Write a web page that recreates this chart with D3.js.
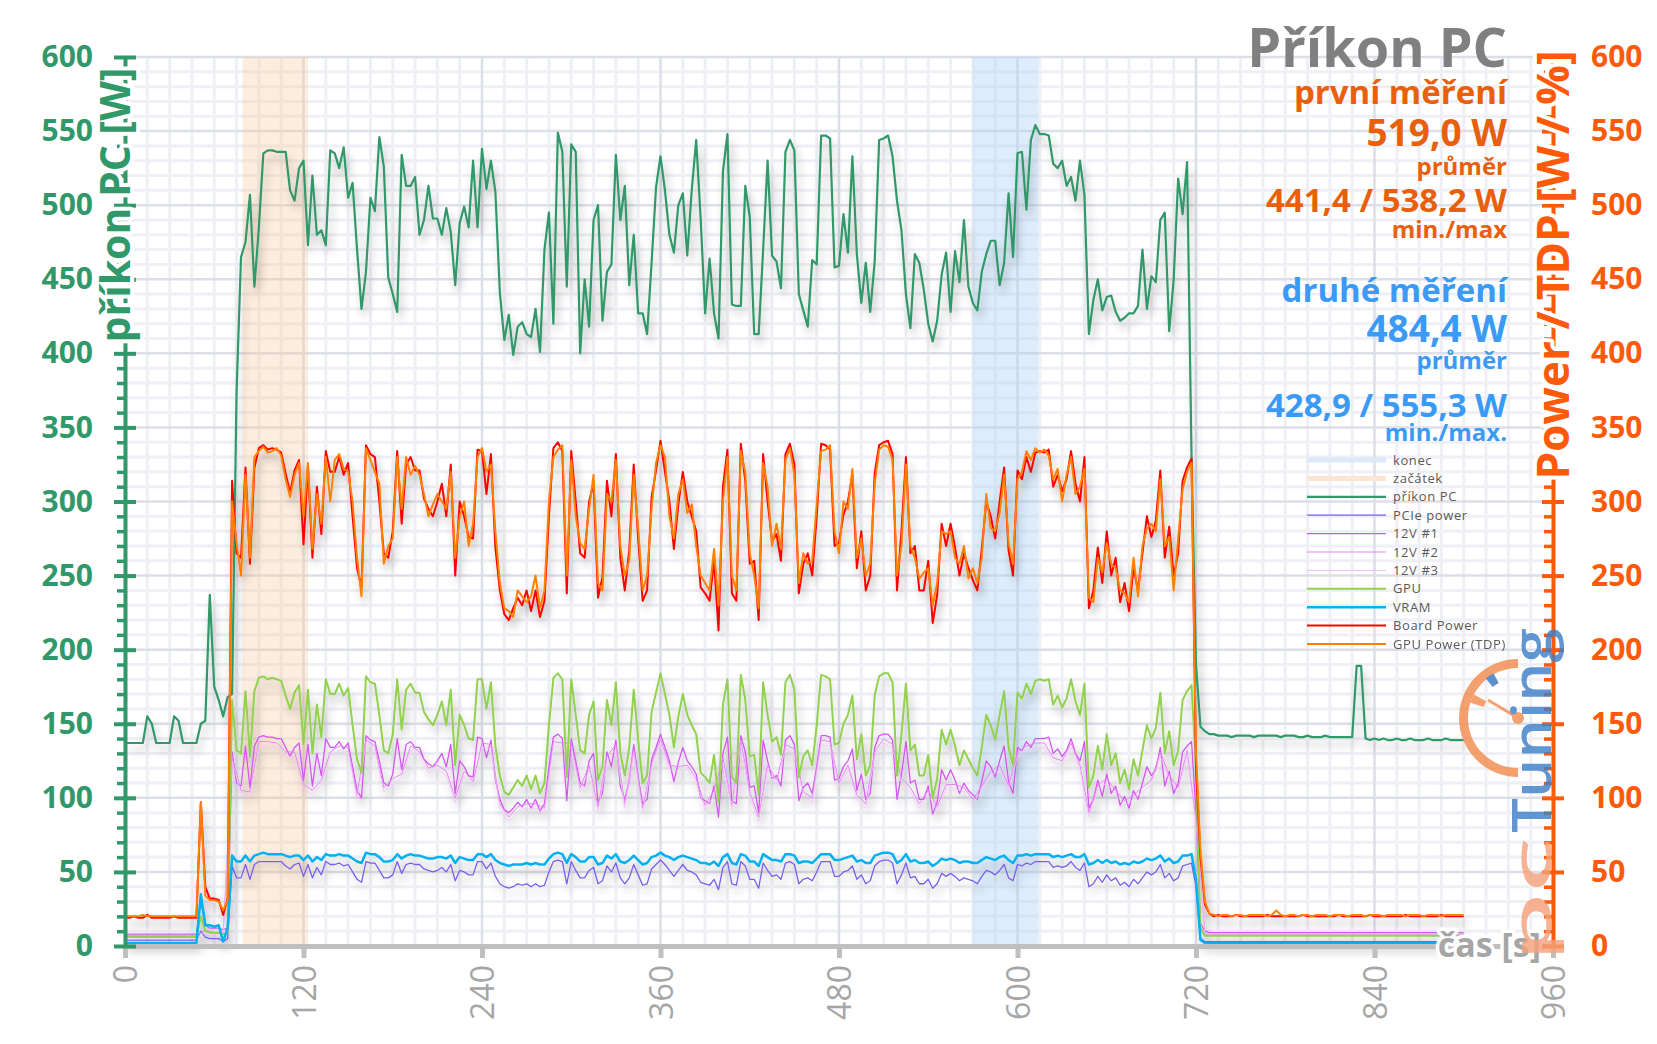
<!DOCTYPE html>
<html><head><meta charset="utf-8">
<script src="https://cdn.jsdelivr.net/npm/d3@7"></script>
<style>body{margin:0;background:#fff}svg{display:block;font-family:"Open Sans",sans-serif}</style>
</head><body><svg id="c" width="1657" height="1044"></svg>
<script>
// ---------- DATA ----------
const step = 3;      // seconds between samples (main series)
const step12 = 6;    // seconds between samples (12V #2, #3)
const xTicks = [0,120,240,360,480,600,720,840,960];
const yTicks = [0,50,100,150,200,250,300,350,400,450,500,550,600];
const startBand = [79,123];   // "začátek"
const endBand = [570,614];    // "konec"

const prikonPC = [
137,137,137,137,137,155,150,137,137,137,137,155,152,137,137,137,137,150,152,237,175,166,155,168,
170,374,465,475,507,445,485,535,537,537,536,536,536,510,503,525,530,473,520,480,483,473,537,535,525,539,505,515,470,430,455,505,496,546,526,451,440,428,534,513,513,519,480,490,513,491,491,480,498,482,446,488,499,485,530,485,
538,511,530,509,441,409,426,399,418,421,413,411,430,401,470,495,420,549,536,445,541,536,400,450,418,490,500,422,455,460,534,490,513,446,480,427,427,413,461,512,533,510,480,468,500,508,466,510,544,491,427,464,427,410,523,548,433,432,432,513,492,413,413,
470,530,466,462,444,536,544,537,440,429,418,463,460,547,547,545,458,459,494,468,533,467,434,461,428,462,544,545,547,533,503,483,440,417,467,461,443,420,408,422,453,468,428,469,448,490,445,434,429,455,467,476,476,446,461,508,465,535,536,497,544,554,
548,548,547,528,525,530,513,519,503,530,507,413,436,450,429,438,439,428,422,424,427,427,432,470,430,452,448,490,495,415,450,518,494,529,330,190,148,145,143,
143,142,142,142,141,142,142,142,142,141,142,142,142,142,142,141,142,142,142,141,141,142,141,141,141,142,141,141,141,141,141,141,
189,189,
140,139,140,139,140,139,139,140,139,139,140,139,139,139,140,139,139,139,140,139,139,139,139];

const boardPower = [
19,19,20,19,19,21,19,19,19,19,19,20,19,19,19,19,19,97,40,32,32,31,21,32,
314,265,262,323,258,323,336,338,335,336,335,333,319,306,321,328,271,324,262,310,278,334,320,320,330,318,326,290,255,242,338,332,330,300,265,262,280,334,285,325,330,321,321,302,295,290,300,312,290,325,250,300,290,276,275,335,
334,305,332,269,240,224,220,228,235,230,240,226,240,222,233,290,336,340,334,238,334,300,265,262,300,312,235,249,314,290,332,262,240,267,325,275,233,240,303,321,341,320,300,268,298,320,300,290,280,242,238,233,260,213,310,335,238,233,339,314,258,260,220,
332,300,273,278,260,332,339,325,238,258,265,250,290,339,338,335,270,272,291,300,318,255,280,240,250,319,338,340,341,332,240,280,330,265,270,240,240,260,218,237,285,270,285,269,250,265,255,247,240,268,300,290,275,300,323,267,250,321,315,330,320,333,
334,333,335,310,318,307,315,334,312,300,330,228,240,269,245,280,250,262,232,245,226,255,240,265,290,276,287,321,262,283,250,265,314,323,329,120,60,28,22,
20,21,20,20,20,21,20,20,20,20,20,20,21,20,20,20,20,20,20,20,21,20,20,20,20,20,20,20,21,20,20,20,20,20,20,21,20,20,20,20,20,20,20,21,20,20,20,20,20,20,20,21,20,20,20,20,20];

const gpuPowerTDP = [
20,20,20,20,21,20,20,20,20,20,20,20,20,20,20,20,20,97,34,31,31,30,24,31,
300,272,250,318,262,330,334,337,333,334,336,331,315,303,318,326,290,326,268,305,285,330,300,328,332,322,320,300,262,236,336,328,320,312,258,270,275,330,295,330,318,324,318,305,290,298,305,300,295,320,262,290,300,270,285,330,
336,320,325,280,245,228,226,222,240,236,232,236,250,228,240,300,330,335,338,250,328,290,272,268,295,318,245,240,305,300,328,270,250,260,318,282,240,250,295,326,338,330,290,275,305,315,292,298,270,250,245,240,268,230,300,330,250,240,334,320,265,250,228,
326,310,270,285,268,328,336,318,245,265,258,260,298,334,335,338,280,265,300,295,322,262,275,250,258,312,335,338,337,328,250,270,325,270,262,248,252,255,230,245,280,278,280,262,258,270,248,255,245,262,305,282,280,292,318,272,258,315,320,334,328,336,
333,335,331,315,322,300,318,330,305,310,322,235,232,262,252,272,258,255,240,238,232,262,236,270,282,285,280,315,270,276,240,275,308,320,326,130,65,30,22,
21,20,21,21,20,21,21,20,21,21,21,21,20,21,24,21,20,21,21,20,21,21,20,21,21,21,20,21,21,21,20,21,21,21,20,21,21,21,20,21,21,21,21,20,21,21,21,20,21,21,21,20,21,21,21,21,21];

const gpuCore = [
6,6,6,6,6,6,6,6,6,6,6,6,6,6,6,6,6,20,10,9,9,9,8,9,
166,132,130,172,128,172,181,182,180,181,180,179,169,160,171,176,136,173,130,163,141,180,170,170,177,169,174,149,126,117,182,178,177,156,132,130,143,180,146,173,177,171,171,158,153,149,156,165,149,173,122,156,149,140,139,180,
180,160,178,135,115,104,102,107,112,108,115,106,115,103,110,149,181,184,180,114,180,156,132,130,156,165,112,121,166,149,178,130,115,134,173,139,110,115,158,171,184,170,156,134,155,170,156,149,143,117,114,110,129,97,163,180,114,110,183,166,128,129,102,
178,156,138,141,129,178,183,173,114,128,132,122,149,183,182,180,136,137,150,156,169,126,143,115,122,169,182,184,184,178,115,143,177,132,136,115,115,129,100,113,146,136,146,135,122,132,126,120,115,134,156,149,139,156,172,134,122,171,167,177,170,179,
180,179,180,163,169,161,167,180,165,156,177,107,115,135,119,143,122,130,110,119,106,126,115,132,149,140,147,171,130,145,122,132,166,172,176,120,12,7,7,
7,7,7,7,7,7,7,7,7,7,7,7,7,7,7,7,7,7,7,7,7,7,7,7,7,7,7,7,7,7,7,7,7,7,7,7,7,7,7,7,7,7,7,7,7,7,7,7,7,7,7,7,7,7,7,7,7];

const v12_1 = [
8,8,8,8,8,8,8,8,8,8,8,8,8,8,8,8,8,30,14,12,12,12,11,12,
131,110,108,135,107,135,141,142,141,141,140,140,134,128,134,137,112,136,108,130,115,140,134,134,138,133,137,121,105,100,142,139,138,125,110,108,116,140,119,136,138,134,134,126,123,121,125,130,121,136,103,125,121,115,114,141,
140,127,139,112,99,92,90,93,97,94,99,93,99,91,96,121,141,143,140,98,140,125,110,108,125,130,97,103,131,121,139,108,99,111,136,114,96,99,126,134,143,134,125,111,124,134,125,121,116,100,98,96,108,87,130,141,98,96,142,131,107,108,90,
139,125,113,115,108,139,142,136,98,107,110,103,121,142,142,141,112,113,121,125,133,105,116,99,103,134,142,143,143,139,99,116,138,110,112,99,99,108,89,97,119,112,119,112,103,110,105,102,99,111,125,121,114,125,135,111,103,134,132,138,134,140,
140,140,141,130,133,128,132,140,130,125,138,93,99,112,101,116,103,108,95,101,93,105,99,110,121,115,119,134,108,118,103,110,131,135,138,90,15,10,9,
9,9,9,9,9,9,9,9,9,9,9,9,9,9,9,9,9,9,9,9,9,9,9,9,9,9,9,9,9,9,9,9,9,9,9,9,9,9,9,9,9,9,9,9,9,9,9,9,9,9,9,9,9,9,9,9,9];

const v12_2 = [
7,7,7,7,7,7,7,7,7,11,9,8,
128,105,104,138,138,137,131,131,109,105,112,131,135,134,102,139,135,107,113,116,135,131,120,122,118,100,118,111,137,136,96,87,94,96,96,93,138,137,137,107,122,94,128,136,96,133,93,123,140,122,121,122,113,95,105,127,95,139,104,87,122,112,136,133,104,100,139,138,110,122,102,96,131,140,136,113,107,96,105,94,109,109,107,99,108,118,122,108,131,135,137,137,127,125,137,122,90,109,113,105,98,102,107,112,131,115,107,132,85,8,
8,8,8,8,8,8,8,8,8,8,8,8,8,8,8,8,8,8,8,8,8,8,8,8,8,8,8,8,8];

const v12_3 = [
6,6,6,6,6,6,6,6,6,9,8,7,
125,102,101,135,135,134,128,128,106,102,109,128,132,131,99,136,132,104,110,113,132,128,117,119,115,97,115,108,134,133,93,84,91,93,93,90,135,134,134,104,119,91,125,133,93,130,90,120,137,119,118,119,110,92,102,124,92,136,101,84,119,109,133,130,101,97,136,135,107,119,99,93,128,137,133,110,104,93,102,91,106,106,104,96,105,115,119,105,128,132,134,134,124,122,134,119,87,106,110,102,95,99,104,109,128,112,104,129,82,7,
7,7,7,7,7,7,7,7,7,7,7,7,7,7,7,7,7,7,7,7,7,7,7,7,7,7,7,7,7];

const pciePower = [
4,4,4,4,4,4,4,4,4,4,4,4,4,4,4,4,4,10,6,5,5,5,3,5,
54,46,46,55,45,55,57,57,57,57,57,57,54,52,55,56,47,55,46,53,48,57,55,55,56,54,55,50,45,43,57,56,56,51,46,46,48,57,49,55,56,55,55,52,51,50,51,53,50,55,44,51,50,48,48,57,
57,52,56,47,42,40,39,40,42,41,42,40,42,40,41,50,57,58,57,42,57,51,46,46,51,53,42,44,54,50,56,46,42,46,55,48,41,42,52,55,58,55,51,47,51,55,51,50,48,43,42,41,45,38,53,57,42,41,57,54,45,45,39,
56,51,47,48,45,56,57,55,42,45,46,44,50,57,57,57,47,47,50,51,54,45,48,42,44,54,57,58,58,56,42,48,56,46,47,42,42,45,39,42,49,47,49,47,44,46,45,44,42,47,51,50,48,51,55,46,44,55,54,56,55,57,
57,57,57,53,54,53,54,57,53,51,56,40,42,47,43,48,44,46,41,43,40,45,42,46,50,48,50,55,46,49,44,46,54,55,56,40,5,3,3,
3,3,3,3,3,3,3,3,3,3,3,3,3,3,3,3,3,3,3,3,3,3,3,3,3,3,3,3,3,3,3,3,3,3,3,3,3,3,3,3,3,3,3,3,3,3,3,3,3,3,3,3,3,3,3,3,3];

const vram = [
2,2,2,2,2,2,2,2,2,2,2,2,2,2,2,2,2,35,14,14,13,14,3,12,
61,57,57,61,57,61,62,63,62,62,62,62,61,60,61,61,58,61,57,60,58,62,61,61,62,61,61,59,57,56,63,62,62,60,57,57,58,62,59,61,62,61,61,60,59,59,60,60,59,61,56,60,59,58,58,62,
62,60,62,58,56,55,54,55,55,55,56,55,56,55,55,59,62,63,62,56,62,60,57,57,60,60,55,56,61,59,62,57,56,58,61,58,55,56,60,61,63,61,60,58,60,61,60,59,58,56,56,55,57,54,60,62,56,55,62,61,57,57,54,
62,60,58,58,57,62,62,61,56,57,57,56,59,62,62,62,58,58,59,60,61,57,58,56,56,61,62,63,63,62,56,58,62,57,58,56,56,57,54,56,59,58,59,58,56,57,57,56,56,58,60,59,58,60,61,58,56,61,61,62,61,62,
62,62,62,60,61,60,61,62,60,60,62,55,56,58,56,58,56,57,55,56,55,57,56,57,59,58,59,61,57,59,56,57,61,61,62,45,4,2,2,
2,2,2,2,2,2,2,2,2,2,2,2,2,2,2,2,2,2,2,2,2,2,2,2,2,2,2,2,2,2,2,2,2,2,2,2,2,2,2,2,2,2,2,2,2,2,2,2,2,2,2,2,2,2,2,2,2];

// ---------- CHART ----------
const svg = d3.select("#c");
const M = {left:125, right:1553, top:57, bottom:946};
const x = d3.scaleLinear().domain([0,960]).range([M.left, M.right]);
const yL = d3.scaleLinear().domain([0,600]).range([M.bottom, M.top]);
const yR = d3.scaleLinear().domain([0,600]).range([M.bottom, M.top]);
const GREEN = "#31986a", ORANGE = "#ff5a0a";

const defs = svg.append("defs");
const f = defs.append("filter").attr("id","sh").attr("x","-5%").attr("y","-5%").attr("width","110%").attr("height","120%");
f.append("feGaussianBlur").attr("in","SourceAlpha").attr("stdDeviation",5).attr("result","b");
f.append("feOffset").attr("in","b").attr("dx",3).attr("dy",7).attr("result","o");
const ct = f.append("feComponentTransfer").attr("in","o").attr("result","s");
ct.append("feFuncA").attr("type","linear").attr("slope",0.3);
const mg = f.append("feMerge"); mg.append("feMergeNode").attr("in","s"); mg.append("feMergeNode").attr("in","SourceGraphic");

// grid
const grid = svg.append("g");
const minorX = d3.range(0,961,15).filter(v=>v%120!==0);
const minorY = d3.range(0,601,10).filter(v=>v%50!==0);
grid.selectAll(".mx").data(minorX).join("line").attr("x1",d=>x(d)).attr("x2",d=>x(d)).attr("y1",M.top).attr("y2",M.bottom).attr("stroke","#eef0f5").attr("stroke-width",3);
grid.selectAll(".my").data(minorY).join("line").attr("y1",d=>yL(d)).attr("y2",d=>yL(d)).attr("x1",M.left).attr("x2",M.right).attr("stroke","#eef0f5").attr("stroke-width",3);
grid.selectAll(".Mx").data(xTicks).join("line").attr("x1",d=>x(d)).attr("x2",d=>x(d)).attr("y1",M.top).attr("y2",M.bottom).attr("stroke","#dcdfe7").attr("stroke-width",2.5);
grid.selectAll(".My").data(yTicks).join("line").attr("y1",d=>yL(d)).attr("y2",d=>yL(d)).attr("x1",M.left).attr("x2",M.right).attr("stroke","#dcdfe7").attr("stroke-width",2.5);

// bands
svg.append("rect").attr("x",x(startBand[0])).attr("width",x(startBand[1])-x(startBand[0])).attr("y",M.top).attr("height",M.bottom-M.top).attr("fill","#f9c89a").attr("opacity",0.33);
svg.append("rect").attr("x",x(endBand[0])).attr("width",x(endBand[1])-x(endBand[0])).attr("y",M.top).attr("height",M.bottom-M.top).attr("fill","#a8cff5").attr("opacity",0.38);

// series
const series = [
  {name:"příkon PC", data:prikonPC, st:step, color:GREEN, w:2.2, y:yL},
  {name:"PCIe power", data:pciePower, st:step, color:"#7a5cf0", w:1.3, y:yR},
  {name:"12V #1", data:v12_1, st:step, color:"#d455f0", w:1.3, y:yR},
  {name:"12V #2", data:v12_2, st:step12, color:"#e486f5", w:1, y:yR},
  {name:"12V #3", data:v12_3, st:step12, color:"#f3bdf9", w:0.8, y:yR},
  {name:"GPU", data:gpuCore, st:step, color:"#92d050", w:2, y:yR},
  {name:"VRAM", data:vram, st:step, color:"#00b0f0", w:2.5, y:yR},
  {name:"Board Power", data:boardPower, st:step, color:"#ff0000", w:2, y:yR},
  {name:"GPU Power (TDP)", data:gpuPowerTDP, st:step, color:"#ff8000", w:2, y:yR}
];
const lg = svg.append("g").attr("filter","url(#sh)");
series.forEach(s=>{
  const line = d3.line().x((d,i)=>x(i*s.st)).y(d=>s.y(d));
  lg.append("path").attr("d",line(s.data)).attr("fill","none").attr("stroke",s.color).attr("stroke-width",s.w).attr("stroke-linejoin","round");
});

// x axis
const gx = svg.append("g").attr("transform",`translate(0,${M.bottom})`)
  .call(d3.axisBottom(x).tickValues(xTicks).tickSize(12).tickSizeOuter(0));
gx.select(".domain").attr("stroke","#bfbfbf").attr("stroke-width",5);
gx.selectAll(".tick line").attr("stroke","#bfbfbf").attr("stroke-width",5);
gx.selectAll(".tick text").attr("transform","rotate(-90)").attr("x",-19).attr("y",0).attr("dy","0.36em")
  .attr("text-anchor","end").style("font","400 32px 'Open Sans'").attr("fill","#a6a6a6");

// left axis
const gLm = svg.append("g").attr("transform",`translate(${M.left},0)`)
  .call(d3.axisLeft(yL).tickValues(minorY).tickSize(8).tickFormat(""));
gLm.select(".domain").remove();
gLm.selectAll(".tick line").attr("stroke",GREEN).attr("stroke-width",3.5);
const gL = svg.append("g").attr("transform",`translate(${M.left},0)`)
  .call(d3.axisLeft(yL).tickValues(yTicks).tickSize(11).tickSizeOuter(0).tickPadding(21));
gL.select(".domain").attr("stroke",GREEN).attr("stroke-width",4);
gL.selectAll(".tick line").attr("stroke",GREEN).attr("stroke-width",4).attr("x1",11);
gL.selectAll(".tick text").style("font","700 30px 'Open Sans'").attr("fill",GREEN);

// right axis
const gRm = svg.append("g").attr("transform",`translate(${M.right},0)`)
  .call(d3.axisLeft(yR).tickValues(minorY).tickSize(9).tickFormat(""));
gRm.select(".domain").remove();
gRm.selectAll(".tick line").attr("stroke",ORANGE).attr("stroke-width",3.5);
const gR = svg.append("g").attr("transform",`translate(${M.right},0)`)
  .call(d3.axisRight(yR).tickValues(yTicks).tickSize(11).tickSizeOuter(0).tickPadding(27));
gR.select(".domain").attr("stroke",ORANGE).attr("stroke-width",4);
gR.selectAll(".tick line").attr("stroke",ORANGE).attr("stroke-width",4).attr("x1",-11);
gR.selectAll(".tick text").style("font","700 30px 'Open Sans'").attr("fill",ORANGE);

// axis titles (with white halo)
function halo(sel,w){return sel.attr("stroke","#fff").attr("stroke-width",w).attr("stroke-linejoin","round").attr("paint-order","stroke");}
halo(svg.append("text").attr("transform","translate(130,205) rotate(-90)").attr("text-anchor","middle")
  .style("font","700 41px 'Open Sans'").attr("fill",GREEN).text("příkon PC [W]"),8);
halo(svg.append("text").attr("transform","translate(1569,265) rotate(-90)").attr("text-anchor","middle")
  .style("font","700 44px 'Open Sans'").attr("fill",ORANGE).text("Power / TDP [W / %]"),8);
halo(svg.append("text").attr("x",1541).attr("y",957).attr("text-anchor","end")
  .style("font","700 34px 'Open Sans'").attr("fill","#a6a6a6").text("čas [s]"),7);

// pcTuning watermark (semi-transparent, on top)
const logo = svg.append("g").attr("opacity",0.82);
const cx=1518, cy=718;
logo.append("path").attr("transform",`translate(${cx},${cy})`).attr("d",d3.arc().innerRadius(50).outerRadius(59).startAngle(Math.PI).endAngle(2*Math.PI)()).attr("fill","#f28c50");
logo.append("path").attr("transform",`translate(${cx},${cy})`).attr("d",d3.arc().innerRadius(40).outerRadius(51).startAngle(5.6).endAngle(5.78)()).attr("fill","#3a78c0");
logo.append("path").attr("transform",`translate(${cx},${cy})`).attr("d",d3.arc().innerRadius(36).outerRadius(50).startAngle(5.02).endAngle(5.2)()).attr("fill","#f28c50");
logo.append("line").attr("x1",cx).attr("y1",cy).attr("x2",cx-30).attr("y2",cy-18).attr("stroke","#f28c50").attr("stroke-width",3);
logo.append("circle").attr("cx",cx).attr("cy",cy).attr("r",6).attr("fill","#f28c50");
logo.append("text").attr("transform","translate(1551,962) rotate(-90)").style("font","600 54px 'Open Sans'")
  .attr("textLength",125).attr("lengthAdjust","spacingAndGlyphs").attr("fill","#f4a27a").text("pc");
logo.append("text").attr("transform","translate(1551,833) rotate(-90)").style("font","600 54px 'Open Sans'")
  .attr("textLength",205).attr("lengthAdjust","spacingAndGlyphs").attr("fill","#3f7fc8").text("Tuning");

// title and annotations
const ann = [
  {t:"Příkon PC", y:67, s:54, c:"#808080"},
  {t:"první měření", y:104, s:33, c:"#e8600c"},
  {t:"519,0 W", y:146, s:37, c:"#e8600c"},
  {t:"průměr", y:175, s:24, c:"#e8600c"},
  {t:"441,4 / 538,2 W", y:212, s:33, c:"#e8600c"},
  {t:"min./max", y:238, s:24, c:"#e8600c"},
  {t:"druhé měření", y:302, s:33, c:"#3a9af5"},
  {t:"484,4 W", y:342, s:37, c:"#3a9af5"},
  {t:"průměr", y:369, s:24, c:"#3a9af5"},
  {t:"428,9 / 555,3 W", y:417, s:33, c:"#3a9af5"},
  {t:"min./max.", y:441, s:24, c:"#3a9af5"}
];
svg.append("g").selectAll("text").data(ann).join("text").attr("x",1507).attr("y",d=>d.y).attr("text-anchor","end")
  .style("font",d=>`700 ${d.s}px 'Open Sans'`).attr("fill",d=>d.c).text(d=>d.t);

// legend
const legend = [
  {n:"konec", c:"#dbe9fb", w:5},
  {n:"začátek", c:"#fce6d3", w:5},
  ...series.map(s=>({n:s.name, c:s.color, w:Math.max(1,s.w)}))
];
const lgd = svg.append("g").selectAll("g").data(legend).join("g").attr("transform",(d,i)=>`translate(0,${460+i*18.4})`);
lgd.append("line").attr("x1",1307).attr("x2",1386).attr("stroke",d=>d.c).attr("stroke-width",d=>d.w);
lgd.append("text").attr("x",1393).attr("dy","0.35em").style("font","400 13px 'Open Sans'").style("letter-spacing","0.6px").attr("fill","#595959").text(d=>d.n);
</script></body></html>
